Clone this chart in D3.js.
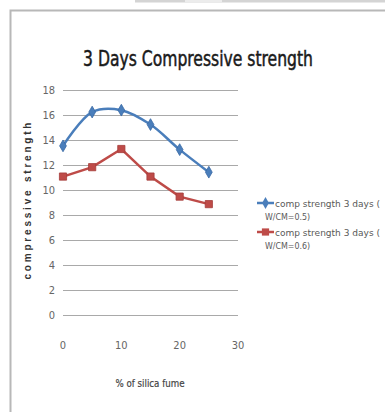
<!DOCTYPE html>
<html>
<head>
<meta charset="utf-8">
<script src="https://cdn.jsdelivr.net/npm/d3@7/dist/d3.min.js"></script>
<style>
  html, body { margin: 0; padding: 0; background: #fff; }
  svg { display: block; }
</style>
</head>
<body>
<svg id="chart" width="385" height="412"></svg>
<script>
// Silica fume content (%) and 3-day compressive strength for two W/CM ratios
const silicaFume = [0, 5, 10, 15, 20, 25];
const strengthWcm05 = [13.5, 16.2, 16.35, 15.2, 13.2, 11.4];
const strengthWcm06 = [11.05, 11.8, 13.25, 11.05, 9.45, 8.85];
const yTicks = [0, 2, 4, 6, 8, 10, 12, 14, 16, 18];
const xTicks = [0, 10, 20, 30];
const seriesNames = ["comp strength 3 days (", "comp strength 3 days ("];
const seriesSub = ["W/CM=0.5)", "W/CM=0.6)"];

const svg = d3.select("#chart");
const narrow = "'Liberation Sans Narrow', 'DejaVu Sans Condensed', 'Liberation Sans', sans-serif";

// page strip and chart frame
svg.append("rect").attr("x", 135).attr("y", 0).attr("width", 250).attr("height", 2.5).attr("fill", "#d4d4d4");
svg.append("rect").attr("x", 185).attr("y", 0).attr("width", 37).attr("height", 2.5).attr("fill", "#ececec");
svg.append("rect").attr("x", 10.5).attr("y", 10.5).attr("width", 400).attr("height", 420)
  .attr("fill", "#fff").attr("stroke", "#b8b8b8").attr("stroke-width", 2);

const x = d3.scaleLinear().domain([0, 30]).range([63, 238]);
const y = d3.scaleLinear().domain([0, 18]).range([315, 89.5]);

// horizontal gridlines
svg.append("g").selectAll("line").data(yTicks).join("line")
  .attr("x1", x(0)).attr("x2", x(30))
  .attr("y1", d => Math.round(y(d)) + 0.5).attr("y2", d => Math.round(y(d)) + 0.5)
  .attr("stroke", "#a9a9a9").attr("stroke-width", 1);

// y tick labels
svg.append("g").selectAll("text").data(yTicks).join("text")
  .attr("x", 55).attr("y", d => y(d) + 4)
  .attr("text-anchor", "end")
  .attr("font-family", narrow).attr("font-size", 11).attr("fill", "#666")
  .text(d => d);

// x tick labels
svg.append("g").selectAll("text").data(xTicks).join("text")
  .attr("x", d => x(d)).attr("y", 349)
  .attr("text-anchor", "middle")
  .attr("font-family", narrow).attr("font-size", 11).attr("fill", "#666")
  .text(d => d);

// title
svg.append("text").attr("x", 198).attr("y", 66).attr("text-anchor", "middle")
  .attr("font-family", narrow).attr("font-size", 22).attr("fill", "#1a1a1a")
  .attr("stroke", "#1a1a1a").attr("stroke-width", 0.5)
  .attr("textLength", 230).attr("lengthAdjust", "spacingAndGlyphs")
  .text("3 Days Compressive strength");

// axis titles
svg.append("text").attr("transform", "translate(31,201) rotate(-90)")
  .attr("text-anchor", "middle").attr("font-family", "'Liberation Sans', sans-serif")
  .attr("font-size", 10).attr("font-weight", "bold").attr("fill", "#333")
  .attr("textLength", 157).attr("lengthAdjust", "spacing")
  .text("compressive strength");
svg.append("text").attr("x", 150).attr("y", 387).attr("text-anchor", "middle")
  .attr("font-family", narrow).attr("font-size", 10.5).attr("fill", "#444")
  .attr("stroke", "#444").attr("stroke-width", 0.2)
  .attr("textLength", 69).attr("lengthAdjust", "spacingAndGlyphs")
  .text("% of silica fume");

// series
const blue = "#4a7ebb", red = "#be4b48";
const pts = vals => silicaFume.map((s, i) => [s, vals[i]]);

svg.append("path").datum(pts(strengthWcm05))
  .attr("d", d3.line().x(d => x(d[0])).y(d => y(d[1])).curve(d3.curveCatmullRom.alpha(0.5)))
  .attr("fill", "none").attr("stroke", blue).attr("stroke-width", 2.5);
svg.append("path").datum(pts(strengthWcm06))
  .attr("d", d3.line().x(d => x(d[0])).y(d => y(d[1])))
  .attr("fill", "none").attr("stroke", red).attr("stroke-width", 2.5);

const diamond = d3.symbol().type(d3.symbolDiamond).size(40);
const square = d3.symbol().type(d3.symbolSquare).size(52);
svg.append("g").selectAll("path").data(pts(strengthWcm05)).join("path")
  .attr("d", diamond).attr("transform", d => `translate(${x(d[0])},${y(d[1])})`)
  .attr("fill", blue).attr("stroke", "#3a6aa5").attr("stroke-width", 0.8);
svg.append("g").selectAll("path").data(pts(strengthWcm06)).join("path")
  .attr("d", square).attr("transform", d => `translate(${x(d[0])},${y(d[1])})`)
  .attr("fill", red).attr("stroke", "#a53c3a").attr("stroke-width", 0.8);

// legend
const legend = svg.append("g");
const ly = [203, 232];
[blue, red].forEach((c, i) => {
  legend.append("line").attr("x1", 257).attr("x2", 274).attr("y1", ly[i]).attr("y2", ly[i])
    .attr("stroke", c).attr("stroke-width", 2.5);
  legend.append("path").attr("d", i === 0 ? diamond : square)
    .attr("transform", `translate(265.5,${ly[i]})`).attr("fill", c);
  legend.append("text").attr("x", 275).attr("y", ly[i] + 3.5)
    .attr("font-family", narrow).attr("font-size", 9.5).attr("fill", "#595959")
    .attr("textLength", 105).attr("lengthAdjust", "spacingAndGlyphs")
    .text(seriesNames[i]);
  legend.append("text").attr("x", 265).attr("y", ly[i] + 17)
    .attr("font-family", narrow).attr("font-size", 9.5).attr("fill", "#595959")
    .attr("textLength", 45).attr("lengthAdjust", "spacingAndGlyphs")
    .text(seriesSub[i]);
});
</script>
</body>
</html>
